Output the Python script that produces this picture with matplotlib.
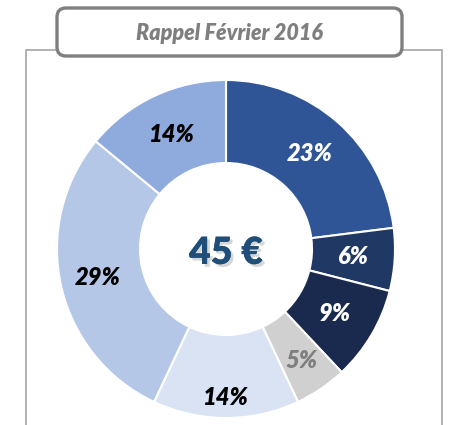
import numpy as np
import matplotlib
matplotlib.use('Agg')
import matplotlib.pyplot as plt
from matplotlib.patches import FancyBboxPatch, Rectangle
import matplotlib.patheffects as pe

# data (clockwise from 12 o'clock)
shares = [23, 6, 9, 5, 14, 29, 14]
colors = ['#2F5597', '#203864', '#1A2A4F', '#D0D0D0', '#DAE3F3', '#B4C7E7', '#8FAADC']
label_colors = ['white', 'white', 'white', '#7F7F7F', 'black', 'black', 'black']
label_dist = [0.75, 0.75, 0.75, 0.80, 0.88, 0.78, 0.75]
title = 'Rappel Février 2016'
center_text = '45 €'

font = ['Lato', 'DejaVu Sans']
W, H = 450, 425

fig = plt.figure(figsize=(4.5, 4.25), dpi=100)
ax = fig.add_axes([0, 0, 1, 1])

cx, cy, r = 226, H - 249, 169
wedges, _ = ax.pie(shares, colors=colors, startangle=90, counterclock=False,
                   center=(cx, cy), radius=r,
                   wedgeprops=dict(width=r - 86, edgecolor='white', linewidth=1.5))

# percentage labels placed at each wedge's mid-angle
for w, val, col, d in zip(wedges, shares, label_colors, label_dist):
    ang = np.deg2rad((w.theta1 + w.theta2) / 2)
    ax.text(cx + d * r * np.cos(ang), cy + d * r * np.sin(ang), f'{val}%',
            ha='center', va='center', fontsize=17, fontweight='heavy',
            fontstyle='italic', color=col, family=font)

# amount in the middle with a soft shadow
ax.text(cx, H - 253, center_text, ha='center', va='center', fontsize=27,
        fontweight='heavy', color='#1F4E79', family=font,
        path_effects=[pe.withSimplePatchShadow(offset=(2, -2), shadow_rgbFace='#999999', alpha=0.4),
                      pe.Normal()])

# outer frame and the title box
ax.add_patch(Rectangle((26, -20), 416, H - 50 + 20, fill=False,
                       edgecolor='#A6A6A6', linewidth=1.2, zorder=0))
ax.add_patch(FancyBboxPatch((57, H - 56), 345, 48,
                            boxstyle='round,pad=0,rounding_size=9',
                            facecolor='white', edgecolor='#7F7F7F', linewidth=2.4, zorder=5))
ax.text(229, H - 33, title, ha='center', va='center', fontsize=15.5,
        fontweight='heavy', fontstyle='italic', color='#7F7F7F', family=font, zorder=6)

ax.set_xlim(0, W)
ax.set_ylim(0, H)
ax.set_aspect('auto')
ax.axis('off')

fig.savefig('out.png', dpi=100)
